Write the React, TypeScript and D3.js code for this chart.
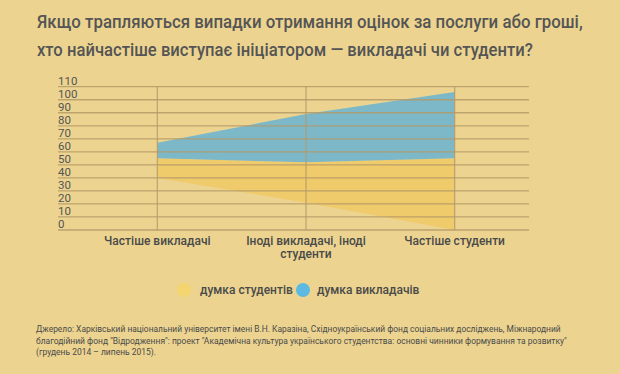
import React, { useLayoutEffect, useRef, useState } from "react";
import * as d3 from "d3";

const categories = ["Частіше викладачі", "Іноді викладачі, іноді студенти", "Частіше студенти"];
const categoryLines = [["Частіше викладачі"], ["Іноді викладачі, іноді", "студенти"], ["Частіше студенти"]];
const baseOffset = [40, 21, 0];
const studentsOpinion = [15, 31, 55];
const teachersOpinion = [12, 37, 51];
const yTicks = [0, 10, 20, 30, 40, 50, 60, 70, 80, 90, 100, 110];
const titleLines = [
  "Якщо трапляються випадки отримання оцінок за послуги або гроші,",
  "хто найчастіше виступає ініціатором — викладачі чи студенти?",
];
const legendLabels = ["думка студентів", "думка викладачів"];
const footerLines = [
  "Джерело: Харківський національний університет імені В.Н. Каразіна, Східноукраїнський фонд соціальних досліджень, Міжнародний",
  "благодійний фонд \"Відродження\": проект \"Академічна культура українського студентства: основні чинники формування та розвитку\"",
  "(грудень 2014 – липень 2015).",
];

const W = 620;
const H = 374;
const BG = "#ecd490";
const GRID = "#b49a68";
const TEXT = "#555";

function FitText(props: {
  x: number;
  y: number;
  width: number;
  fontSize: number;
  fontWeight?: number;
  fill: string;
  children: string;
}) {
  const ref = useRef<SVGTextElement>(null);
  const [k, setK] = useState(1);
  useLayoutEffect(() => {
    if (ref.current) {
      const len = ref.current.getComputedTextLength();
      if (len > 0) setK(Math.min(1, props.width / len));
    }
  }, [props.width, props.children]);
  return (
    <g transform={`translate(${props.x},${props.y}) scale(${k},1)`}>
      <text ref={ref} x={0} y={0} fontSize={props.fontSize} fontWeight={props.fontWeight} fill={props.fill}>
        {props.children}
      </text>
    </g>
  );
}

export default function App() {
  const x = d3.scalePoint<string>().domain(categories).range([83, 529]).padding(0.5);
  const y = d3.scaleLinear().domain([0, 110]).range([230, 86.7]);

  const rows = categories.map((c, i) => ({
    c,
    b: baseOffset[i],
    s: baseOffset[i] + studentsOpinion[i],
    t: baseOffset[i] + studentsOpinion[i] + teachersOpinion[i],
  }));
  const studentsArea = d3
    .area<(typeof rows)[number]>()
    .x((d) => x(d.c)!)
    .y0((d) => y(d.b))
    .y1((d) => y(d.s));
  const teachersArea = d3
    .area<(typeof rows)[number]>()
    .x((d) => x(d.c)!)
    .y0((d) => y(d.s))
    .y1((d) => y(d.t));

  return (
    <svg
      width={W}
      height={H}
      style={{ position: "absolute", left: 0, top: 0, fontFamily: "Roboto, sans-serif" }}
    >
      <rect width={W} height={H} fill={BG} />
      {titleLines.map((t, i) => (
        <FitText key={i} x={37} y={28 + i * 28} width={i === 0 ? 546 : 496} fontSize={19} fontWeight={500} fill={TEXT}>
          {t}
        </FitText>
      ))}
      <path d={studentsArea(rows)!} fill="#f0cb6c" />
      <path d={teachersArea(rows)!} fill="#7db8c8" />
      {yTicks.map((v) => (
        <g key={v}>
          <line x1={58} x2={529} y1={y(v)} y2={y(v)} stroke={GRID} strokeWidth={1.3} opacity={0.85} />
          <text x={58} y={y(v) - 2} fontSize={11.5} fill={TEXT}>
            {v}
          </text>
        </g>
      ))}
      {categories.map((c) => (
        <line key={c} x1={x(c)} x2={x(c)} y1={y(110)} y2={y(0)} stroke={GRID} strokeWidth={1.2} opacity={0.85} />
      ))}
      {categories.map((c, i) => (
        <text key={c} x={x(c)} y={245} textAnchor="middle" fontSize={12} fontWeight={500} fill="#4a4a4a">
          {categoryLines[i].map((l, j) => (
            <tspan key={j} x={x(c)} dy={j === 0 ? 0 : 13}>
              {l}
            </tspan>
          ))}
        </text>
      ))}
      <circle cx={184} cy={290} r={7} fill="#f3d46e" />
      <text x={200} y={294} fontSize={12} fontWeight={500} fill="#4a4a4a">
        {legendLabels[0]}
      </text>
      <circle cx={303} cy={290} r={7} fill="#5bb9e2" />
      <text x={317} y={294} fontSize={12} fontWeight={500} fill="#4a4a4a">
        {legendLabels[1]}
      </text>
      {footerLines.map((t, i) => (
        <FitText
          key={i}
          x={36}
          y={332 + i * 11.5}
          width={i === 0 ? 525 : i === 1 ? 531 : 120}
          fontSize={9.5}
          fill="#4a4a4a"
        >
          {t}
        </FitText>
      ))}
    </svg>
  );
}
